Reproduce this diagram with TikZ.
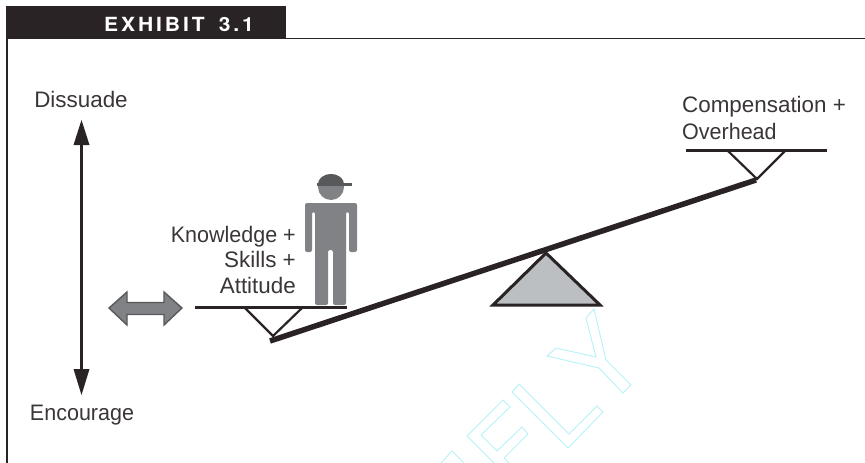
\documentclass[tikz,border=0pt]{standalone}
\usepackage{fontspec}
\setmainfont{Liberation Sans}
\newfontfamily\headfont[LetterSpace=15,FakeStretch=1.08,WordSpace=1.6]{TeX Gyre Heros Bold}
\newfontfamily\narrowfont[FakeStretch=0.96]{Liberation Sans}
\definecolor{ink}{HTML}{2A2326}
\definecolor{txt}{HTML}{3A3536}
\definecolor{man}{HTML}{808285}
\definecolor{capc}{HTML}{58595B}
\definecolor{fulc}{HTML}{BBBFC1}
\definecolor{wm}{HTML}{B4F2F8}
\tikzset{
 lab/.style={font=\fontsize{22.4}{26}\selectfont,text=txt,inner sep=0pt},
 nlab/.style={font=\narrowfont\fontsize{22.4}{26}\selectfont,text=txt,inner sep=0pt},
 pan/.style={draw=ink,line width=3pt},
 brace/.style={draw=ink,line width=2.2pt,line join=miter},
 wmk/.style={draw=wm,line width=0.9pt,line join=miter}
}
\begin{document}
\begin{tikzpicture}[x=1pt,y=-1pt]
\useasboundingbox (0,0) rectangle (865,463);
% frame
\draw[ink,line width=1.3pt] (7,463) -- (7,38.7) -- (865,38.7);
\fill[ink] (6,6) rectangle (286,39);
\node[font=\headfont\fontsize{19.5}{22}\selectfont,text=white,inner sep=0pt,anchor=base] (title) at (179,31) {EXHIBIT 3.1};
% watermark
\draw[wmk] (594,309) -- (586,318) -- (596,357) -- (556,348) -- (547,356) -- (599,368) -- (623,393) -- (631,385) -- (606,360) -- cycle;
\draw[wmk] (519,384) -- (512,392) -- (568,448) -- (603,412) -- (597,406) -- (569,434) -- cycle;
\draw[wmk] (494,463) -- (467,436) -- (503,400) -- (510,407) -- (481,435) -- (497,451) -- (522,427) -- (528,434) -- (504,458) -- (509,463);
\draw[wmk] (441,463) -- (452,451) -- (464,463);
% vertical double arrow
\coordinate (up) at (81.5,120);
\coordinate (dn) at (81.5,395);
\draw[ink,line width=3.6pt] (81.5,140) -- (81.5,375);
\fill[ink] (up) -- (89.5,145) -- (73.5,145) -- cycle;
\fill[ink] (dn) -- (89.5,369) -- (73.5,369) -- cycle;
\node[lab,anchor=base] (diss) at (81,107) {Dissuade};
\node[nlab,anchor=base] (enc) at (82,420) {Encourage};
% grey horizontal arrow
\draw[fill=man,draw=capc,line width=1.4pt,line join=miter] (109,308) -- (127,292) -- (127,302.5) -- (164,302.5) -- (164,292) -- (182,308) -- (164,325) -- (164,314.5) -- (127,314.5) -- (127,325) -- cycle;
% beam
\coordinate (bl) at (270,341);
\coordinate (br) at (756,180);
\draw[ink,line width=5.5pt] (bl) -- (br);
% fulcrum
\draw[fill=fulc,draw=ink,line width=3pt,line join=miter] (546,253) -- (600,305) -- (493,305) -- cycle;
% left pan
\draw[pan] (195,307.5) -- (347,307.5);
\draw[brace] (245,308) -- (273,336) -- (302,308);
% right pan
\draw[pan] (686,150) -- (827,150);
\draw[brace] (728,151) -- (757,179) -- (785,151);
% person
\fill[man,rounded corners=2pt] (305,203) -- (357,203) -- (357,252) -- (349,252) -- (349,212) -- (346,212) -- (346,305) -- (333,305) -- (333,250) -- (328,250) -- (328,305) -- (315,305) -- (315,212) -- (312,212) -- (312,252) -- (305,252) -- cycle;
\fill[man] (331,187) circle (13);
\fill[capc] (318,184) arc (180:360:13 and 10) -- cycle;
\draw[capc,line width=2.5pt] (317,184.5) -- (352,184.5);
% labels
\node[nlab,anchor=base east] (k) at (296,242) {Knowledge +};
\node[lab,anchor=base east] (s) at (296,267.5) {Skills +};
\node[lab,anchor=base east] (a) at (296,293) {Attitude};
\node[lab,anchor=base west] (c) at (682,112) {Compensation +};
\node[nlab,anchor=base west] (o) at (682,139) {Overhead};
\end{tikzpicture}
\end{document}
